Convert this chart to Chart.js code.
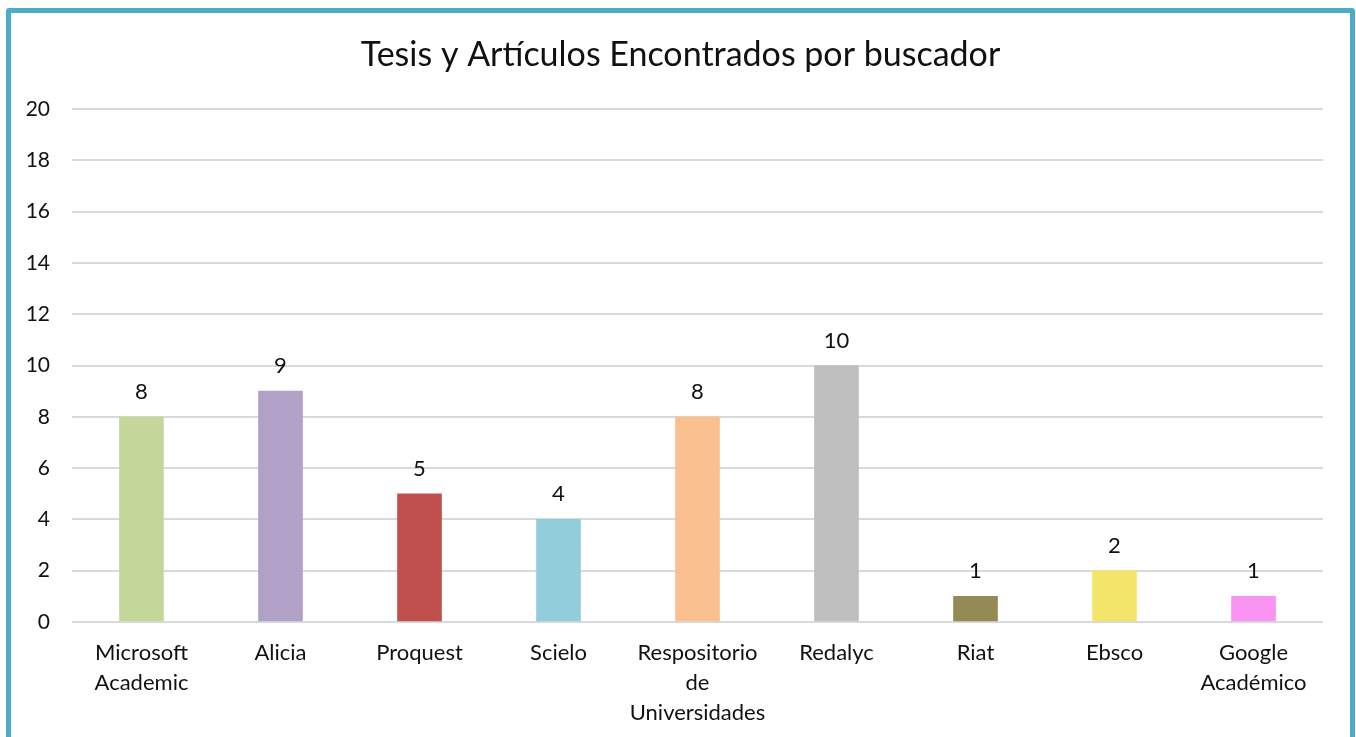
<!DOCTYPE html>
<html>
<head>
<meta charset="utf-8">
<script src="https://cdn.jsdelivr.net/npm/chart.js@4/dist/chart.umd.min.js"></script>
<style>
  body { margin: 0; background: #fff; overflow: hidden; }
  #frame {
    position: absolute; left: 6px; top: 8px;
    width: 1349px; height: 760px;
    box-sizing: border-box;
    border: 5px solid #4BACC6;
    border-radius: 3px;
    background: #fff;
  }
  canvas { display: block; }
</style>
</head>
<body>
<div id="frame"><canvas id="chart" width="1339" height="724"></canvas></div>
<script>
// chart data
const chartTitle = "Tesis y Artículos Encontrados por buscador";
const categories = [
  ["Microsoft", "Academic"],
  "Alicia",
  "Proquest",
  "Scielo",
  ["Respositorio", "de", "Universidades"],
  "Redalyc",
  "Riat",
  "Ebsco",
  ["Google", "Académico"]
];
const counts = [8, 9, 5, 4, 8, 10, 1, 2, 1];
const barColors = [
  "#C4D79B", // Microsoft Academic
  "#B2A1C7", // Alicia
  "#C0504D", // Proquest
  "#92CDDC", // Scielo
  "#FAC090", // Repositorio
  "#BFBFBF", // Redalyc
  "#948A54", // Riat
  "#F3E56A", // Ebsco
  "#F994F2"  // Google Académico
];
const yTicks = [0, 2, 4, 6, 8, 10, 12, 14, 16, 18, 20];

const FONT = "Lato, 'Open Sans', sans-serif";

// title centred on the whole canvas + value labels above each bar
const chartText = {
  id: "chartText",
  afterDraw(chart) {
    const ctx = chart.ctx;
    ctx.save();
    ctx.fillStyle = "#111";
    ctx.textAlign = "center";
    ctx.textBaseline = "middle";
    ctx.font = "34px " + FONT;
    ctx.fillText(chartTitle, chart.width / 2, 42);
    ctx.font = "22px " + FONT;
    chart.getDatasetMeta(0).data.forEach((bar, i) => {
      ctx.fillText(String(counts[i]), bar.x, bar.y - 25);
    });
    ctx.restore();
  }
};

new Chart(document.getElementById("chart"), {
  type: "bar",
  data: {
    labels: categories,
    datasets: [{
      data: counts,
      backgroundColor: barColors,
      borderWidth: 0,
      barThickness: 44
    }]
  },
  options: {
    responsive: false,
    animation: false,
    layout: { padding: { left: 0, right: 27, top: 96, bottom: 0 } },
    plugins: {
      legend: { display: false },
      tooltip: { enabled: false },
      title: { display: false }
    },
    scales: {
      x: {
        grid: { display: false, drawTicks: false },
        border: { display: false },
        ticks: {
          color: "#111",
          padding: 16,
          maxRotation: 0,
          autoSkip: false,
          font: { family: FONT, size: 22, lineHeight: 1.36 }
        },
        afterFit(scale) { scale.height = 115; }
      },
      y: {
        min: 0,
        max: 20,
        afterBuildTicks(scale) { scale.ticks = yTicks.map(v => ({ value: v })); },
        grid: { color: "#D9D9D9", lineWidth: 2, drawTicks: false },
        border: { display: false },
        ticks: {
          color: "#111",
          padding: 22,
          font: { family: FONT, size: 21 }
        },
        afterFit(scale) { scale.width = 61; }
      }
    }
  },
  plugins: [chartText]
});
</script>
</body>
</html>
